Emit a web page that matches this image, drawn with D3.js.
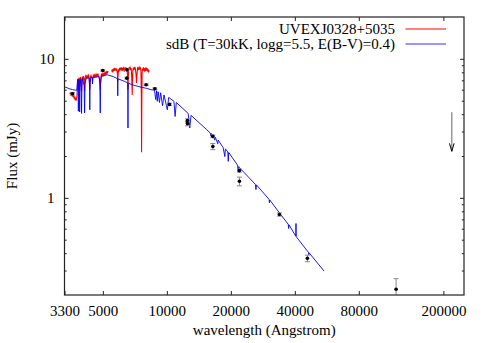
<!DOCTYPE html>
<html>
<head>
<meta charset="utf-8">
<script src="https://cdn.jsdelivr.net/npm/d3@7"></script>
<style>
	body { margin: 0; background: white; }
</style>
</head>
<body>
<div id="chart"></div>
<script>
var font = "'Liberation Serif', 'Times New Roman', Times, serif";

// axis ticks
var x_ticks = [3300, 5000, 10000, 20000, 40000, 80000, 200000];
var y_major = [1, 10];
var y_minor = [0.3, 0.4, 0.5, 0.6, 0.7, 0.8, 0.9, 2, 3, 4, 5, 6, 7, 8, 9];

// observed spectrum, blue arm (wavelength, mJy)
var obs_blue = [
	[3500, 5.55], [3520, 5.75], [3540, 5.45], [3560, 5.65], [3580, 5.4], [3600, 5.6], [3620, 5.3],
	[3640, 5.5], [3660, 5.2], [3680, 5.35], [3700, 5.05], [3720, 5.25], [3740, 5.0], [3760, 5.2],
	[3780, 5.4], [3800, 6.6], [3815, 7.2], [3825, 6.8], [3835, 6.0], [3845, 6.9], [3860, 7.3],
	[3875, 6.9], [3889, 5.9], [3903, 7.0], [3920, 7.4], [3940, 7.2], [3955, 6.8], [3970, 5.8],
	[3985, 6.9], [4000, 7.45], [4026, 7.0], [4050, 7.5], [4075, 7.2], [4090, 6.7], [4102, 5.9],
	[4114, 6.8], [4130, 7.4], [4160, 7.6], [4190, 7.3], [4220, 7.55], [4250, 7.35], [4280, 7.6],
	[4310, 7.2], [4325, 6.7], [4340, 6.0], [4355, 6.8], [4370, 7.4], [4400, 7.6], [4430, 7.35],
	[4460, 7.2], [4471, 6.9], [4485, 7.3], [4510, 7.6], [4540, 7.4], [4570, 7.65], [4600, 7.45],
	[4630, 7.7], [4660, 7.5], [4690, 7.75], [4720, 7.55], [4750, 7.7], [4780, 7.45], [4820, 7.2],
	[4845, 6.8], [4861, 6.0], [4877, 6.8], [4900, 7.5], [4930, 7.75], [4960, 7.55], [4990, 7.8],
	[5020, 7.6], [5050, 7.85], [5080, 7.7], [5110, 7.95], [5140, 7.75], [5170, 8.0], [5200, 7.85],
	[5230, 8.1], [5260, 7.95], [5290, 8.15]
];

// observed spectrum, red arm
var obs_red = [
	[5500, 8.1], [5535, 8.4], [5570, 8.0], [5605, 8.5], [5640, 8.2], [5675, 8.6], [5710, 8.25],
	[5745, 8.55], [5780, 8.2], [5815, 8.5], [5850, 7.9], [5876, 6.9], [5895, 7.6], [5920, 8.4],
	[5955, 8.1], [5990, 8.6], [6025, 8.25], [6060, 8.65], [6095, 8.3], [6130, 8.7], [6165, 8.2],
	[6200, 8.6], [6235, 8.3], [6270, 8.75], [6300, 8.1], [6335, 8.6], [6370, 8.3], [6405, 8.7],
	[6440, 8.35], [6475, 8.6], [6510, 8.1], [6540, 7.2], [6563, 6.0], [6585, 7.3], [6610, 8.3],
	[6645, 8.7], [6680, 8.4], [6715, 8.8], [6750, 8.3], [6785, 8.6], [6820, 8.0], [6850, 6.6],
	[6870, 5.5], [6890, 6.8], [6920, 8.2], [6955, 8.6], [6990, 8.3], [7025, 8.75], [7060, 8.4],
	[7095, 8.7], [7130, 8.2], [7165, 7.7], [7200, 6.7], [7235, 7.6], [7270, 8.4], [7305, 8.75],
	[7340, 8.3], [7375, 8.65], [7410, 8.35], [7445, 8.8], [7480, 8.4], [7515, 8.7], [7550, 8.2],
	[7585, 5.5], [7605, 2.13], [7625, 4.8], [7650, 7.9], [7685, 8.5], [7720, 8.2], [7755, 8.7],
	[7790, 8.3], [7825, 8.6], [7860, 8.1], [7895, 8.5], [7930, 8.2], [7965, 8.7], [8000, 8.3],
	[8035, 8.6], [8070, 8.2], [8105, 8.5], [8140, 8.1], [8175, 8.4], [8210, 8.0], [8250, 8.3]
];

// sdB model spectrum
var model = [
	[3300, 6.30], [3400, 6.18], [3500, 6.08], [3600, 6.0], [3700, 5.96], [3770, 5.94],
	[3790, 6.6], [3805, 7.1], [3825, 6.0], [3835, 4.2], [3845, 6.3], [3860, 7.12], [3878, 6.0],
	[3889, 4.15], [3900, 6.2], [3920, 7.15], [3955, 6.2], [3970, 4.05], [3985, 6.3], [4010, 7.2],
	[4085, 6.4], [4102, 4.08], [4120, 6.5], [4160, 7.25], [4310, 7.3], [4328, 6.4], [4340, 4.3],
	[4352, 6.5], [4380, 7.35], [4460, 7.35], [4471, 6.6], [4482, 7.35], [4800, 7.45], [4840, 6.5],
	[4861, 4.08], [4880, 6.6], [4920, 7.5], [5240, 7.68], [5600, 7.45], [5860, 7.2], [5876, 5.42],
	[5892, 7.18], [6300, 6.9], [6540, 6.72], [6555, 5.5], [6563, 3.18], [6571, 5.5], [6586, 6.68],
	[7000, 6.45], [7630, 6.24], [8000, 6.14], [8500, 5.98], [8750, 5.96], [8863, 5.1], [8950, 5.9],
	[9015, 4.95], [9100, 5.8], [9229, 4.85], [9350, 5.7], [9546, 4.6], [9700, 5.5], [10049, 4.3],
	[10200, 5.28], [10800, 4.95], [10938, 3.85], [11080, 4.85], [12600, 4.05], [12818, 3.18],
	[13000, 3.92], [15418, 3.09], [16000, 2.93], [16109, 2.78], [16200, 2.9], [16407, 2.72],
	[16500, 2.82], [16807, 2.6], [16900, 2.74], [17362, 2.45], [17450, 2.6], [18400, 2.3],
	[18751, 1.98], [18850, 2.25], [19350, 2.14], [19446, 1.83], [19550, 2.12], [21500, 1.72],
	[21655, 1.53], [21800, 1.68], [21955, 1.65], [26100, 1.25], [26252, 1.147], [26400, 1.24],
	[30250, 0.975], [30380, 0.921], [30500, 0.965], [33850, 0.78], [37250, 0.645], [37400, 0.602],
	[37550, 0.64], [40400, 0.53], [40512, 0.654], [40620, 0.525], [45850, 0.414], [46400, 0.405],
	[46538, 0.39], [46700, 0.402], [54950, 0.297]
];

// photometry: wavelength, flux, error
var phot = [
	[3600, 5.61, 0.12], [4996, 8.24, 0.1], [6490, 8.33, 0.1], [6490, 7.26, 0.1],
	[7990, 6.51, 0.08], [8780, 6.10, 0.08], [10285, 4.70, 0.08], [12500, 3.60, 0.1],
	[12500, 3.42, 0.12], [16460, 2.77, 0.06], [16460, 2.34, 0.12], [21950, 1.57, 0.04],
	[21950, 1.315, 0.095], [33850, 0.759, 0.02], [45830, 0.367, 0.02], [119800, 0.22, 0.042]
];

// upper limit: wavelength, top flux, arrow tip flux
var upper_limit = [[219000, 4.12, 2.16]];

var legend_names = ['UVEXJ0328+5035', 'sdB (T=30kK, logg=5.5, E(B-V)=0.4)'];

function draw_chart() {
	var margin = {top: 17, right: 27, bottom: 48, left: 64.5};
	var W = 491, H = 343;
	var width = W - margin.left - margin.right;
	var height = H - margin.top - margin.bottom;

	var svg = d3.select('#chart')
		.append('svg')
			.attr('width', W)
			.attr('height', H);

	var x = d3.scaleLog()
		.domain([3300, 250000])
		.range([margin.left, margin.left + width]);
	var y = d3.scaleLog()
		.domain([0.2, 20])
		.range([margin.top + height, margin.top]);

	svg.append('clipPath')
		.attr('id', 'clip')
		.append('rect')
			.attr('x', margin.left)
			.attr('y', margin.top)
			.attr('width', width)
			.attr('height', height);

	var line = d3.line()
		.x(function(d) { return x(d[0]); })
		.y(function(d) { return y(d[1]); });

	var plot = svg.append('g').attr('clip-path', 'url(#clip)');

	// observed spectrum
	[obs_blue, obs_red].forEach(function(seg) {
		plot.append('path')
			.datum(seg)
			.attr('d', line)
			.attr('fill', 'none')
			.attr('stroke', '#ff0000')
			.attr('stroke-width', 1.1);
	});

	// model
	plot.append('path')
		.datum(model)
		.attr('d', line)
		.attr('fill', 'none')
		.attr('stroke', '#0000ff')
		.attr('stroke-width', 0.9);

	// error bars
	var bars = plot.append('g')
		.selectAll('g')
		.data(phot)
		.enter()
		.append('g')
			.attr('stroke', '#888')
			.attr('stroke-width', 1);
	bars.append('line')
		.attr('x1', function(d) { return x(d[0]); })
		.attr('x2', function(d) { return x(d[0]); })
		.attr('y1', function(d) { return y(d[1] + d[2]); })
		.attr('y2', function(d) { return y(d[1] - d[2]); });
	bars.append('line')
		.attr('x1', function(d) { return x(d[0]) - 2.5; })
		.attr('x2', function(d) { return x(d[0]) + 2.5; })
		.attr('y1', function(d) { return y(d[1] + d[2]); })
		.attr('y2', function(d) { return y(d[1] + d[2]); });
	bars.append('line')
		.attr('x1', function(d) { return x(d[0]) - 2.5; })
		.attr('x2', function(d) { return x(d[0]) + 2.5; })
		.attr('y1', function(d) { return y(d[1] - d[2]); })
		.attr('y2', function(d) { return y(d[1] - d[2]); });

	// dots
	plot.append('g')
		.selectAll('circle')
		.data(phot)
		.enter()
		.append('circle')
			.attr('cx', function(d) { return x(d[0]); })
			.attr('cy', function(d) { return y(d[1]); })
			.attr('r', 1.8)
			.style('fill', 'black');

	// upper limit arrow
	var ul = plot.selectAll('.ul')
		.data(upper_limit)
		.enter()
		.append('g');
	ul.append('line')
		.attr('x1', function(d) { return x(d[0]); })
		.attr('x2', function(d) { return x(d[0]); })
		.attr('y1', function(d) { return y(d[1]); })
		.attr('y2', function(d) { return y(d[2]); })
		.attr('stroke', '#888')
		.attr('stroke-width', 1.3);
	ul.append('path')
		.attr('d', function(d) {
			var px = x(d[0]), py = y(d[2]);
			return 'M' + (px - 2.3) + ',' + (py - 8) + 'L' + px + ',' + py + 'L' + (px + 2.3) + ',' + (py - 8);
		})
		.attr('fill', 'none')
		.attr('stroke', 'black')
		.attr('stroke-width', 1);

	// axes
	var fmt = d3.format('d');
	var xb = svg.append('g')
		.attr('transform', 'translate(0,' + (margin.top + height) + ')')
		.call(d3.axisBottom(x).tickValues(x_ticks).tickFormat(fmt).tickSizeInner(-4).tickSizeOuter(0).tickPadding(10));
	var xt = svg.append('g')
		.attr('transform', 'translate(0,' + margin.top + ')')
		.call(d3.axisTop(x).tickValues(x_ticks).tickFormat('').tickSizeInner(-4).tickSizeOuter(0));

	var y_all = y_major.concat(y_minor);
	var yl = svg.append('g')
		.attr('transform', 'translate(' + margin.left + ',0)')
		.call(d3.axisLeft(y).tickValues(y_all)
			.tickFormat(function(d) { return y_major.indexOf(d) >= 0 ? fmt(d) : ''; })
			.tickSizeInner(-4).tickSizeOuter(0).tickPadding(10));
	var yr = svg.append('g')
		.attr('transform', 'translate(' + (margin.left + width) + ',0)')
		.call(d3.axisRight(y).tickValues(y_all).tickFormat('').tickSizeInner(-4).tickSizeOuter(0));

	// shorter minor ticks
	yl.selectAll('.tick line').filter(function(d) { return y_major.indexOf(d) < 0; }).attr('x2', 2.2);
	yr.selectAll('.tick line').filter(function(d) { return y_major.indexOf(d) < 0; }).attr('x2', -2.2);

	[xb, xt, yl, yr].forEach(function(g) {
		g.attr('font-family', font).attr('font-size', 15);
		g.select('.domain').remove();
		g.selectAll('.tick line').attr('stroke', '#222');
		g.selectAll('text').attr('fill', 'black');
	});

	// frame
	svg.append('rect')
		.attr('x', margin.left)
		.attr('y', margin.top)
		.attr('width', width)
		.attr('height', height)
		.attr('fill', 'none')
		.attr('stroke', '#222')
		.attr('stroke-width', 1.2);

	// legend
	var leg = svg.append('g')
		.attr('font-family', font)
		.attr('font-size', 15);
	leg.append('text')
		.attr('x', 395)
		.attr('y', 34.3)
		.attr('text-anchor', 'end')
		.attr('fill', 'black')
		.text(legend_names[0]);
	leg.append('line')
		.attr('x1', 405.5)
		.attr('x2', 446)
		.attr('y1', 29)
		.attr('y2', 29)
		.style('stroke', '#ff0000')
		.style('stroke-width', '1px');
	leg.append('text')
		.attr('x', 395)
		.attr('y', 48.8)
		.attr('text-anchor', 'end')
		.attr('fill', 'black')
		.text(legend_names[1]);
	leg.append('line')
		.attr('x1', 405.5)
		.attr('x2', 446)
		.attr('y1', 44)
		.attr('y2', 44)
		.style('stroke', '#3030ff')
		.style('stroke-width', '1px');

	// axis labels
	svg.append('text')
		.attr('font-family', font)
		.attr('font-size', 15)
		.attr('text-anchor', 'middle')
		.attr('x', margin.left + width / 2)
		.attr('y', 335)
		.text('wavelength (Angstrom)');
	svg.append('text')
		.attr('font-family', font)
		.attr('font-size', 15)
		.attr('text-anchor', 'middle')
		.attr('transform', 'rotate(-90)')
		.attr('x', -(margin.top + height / 2))
		.attr('y', 17)
		.text('Flux (mJy)');
}

draw_chart();
</script>
</body>
</html>
